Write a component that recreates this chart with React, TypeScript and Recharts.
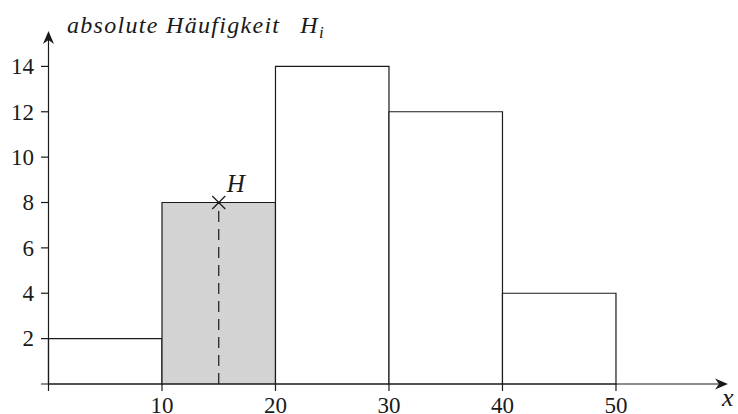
import { ComposedChart, XAxis, YAxis, ReferenceArea, ReferenceLine, Scatter } from 'recharts'

// class boundaries and absolute frequencies H_i
const classLower = [0, 10, 20, 30, 40]
const classUpper = [10, 20, 30, 40, 50]
const counts = [2, 8, 14, 12, 4]
const shadedClass = 1

const xTicks = [0, 10, 20, 30, 40, 50]
const yTicks = [2, 4, 6, 8, 10, 12, 14]

// marked point H on top of the shaded class
const pointX = [15]
const pointY = [8]
const pointLabels = ['H']

const xMin = -0.66
const xMax = 59.87
const yMax = 15.56

const FONT = 'Liberation Serif'
const INK = '#1a1a1a'

function ArrowLine(props: any) {
  const { x1, y1, x2, y2 } = props
  const len = Math.hypot(x2 - x1, y2 - y1) || 1
  const ux = (x2 - x1) / len
  const uy = (y2 - y1) / len
  const nx = -uy
  const ny = ux
  const L = 13
  const W = 5.5
  const notch = 9
  const bx = x2 - ux * L
  const by = y2 - uy * L
  const mx = x2 - ux * notch
  const my = y2 - uy * notch
  return (
    <g>
      <line x1={x1} y1={y1} x2={mx} y2={my} stroke={INK} strokeWidth={1.2} />
      <path
        d={`M${x2},${y2} L${bx + nx * W},${by + ny * W} L${mx},${my} L${bx - nx * W},${by - ny * W} Z`}
        fill={INK}
      />
    </g>
  )
}

function YTick({ x, y, payload }: any) {
  return (
    <g>
      <line x1={x} x2={x + 8} y1={y} y2={y} stroke={INK} strokeWidth={1.2} />
      <text x={x - 7} y={y} dy="0.34em" textAnchor="end" style={{ fontFamily: FONT, fontSize: 23 }} fill={INK}>
        {payload.value}
      </text>
    </g>
  )
}

function XTick({ x, y, payload }: any) {
  return (
    <text x={x} y={y} dy="0.68em" textAnchor="middle" style={{ fontFamily: FONT, fontSize: 23 }} fill={INK}>
      {payload.value === 0 ? '' : payload.value}
    </text>
  )
}

function CrossPoint({ cx, cy, payload }: any) {
  const s = 6.5
  return (
    <g>
      <line x1={cx - s} y1={cy - s} x2={cx + s} y2={cy + s} stroke={INK} strokeWidth={1.2} />
      <line x1={cx - s} y1={cy + s} x2={cx + s} y2={cy - s} stroke={INK} strokeWidth={1.2} />
      <text x={cx + 8} y={cy - 11} style={{ fontFamily: FONT, fontStyle: 'italic', fontSize: 25 }} fill={INK}>
        {payload.label}
      </text>
    </g>
  )
}

export default function App() {
  const points = pointX.map((x, i) => ({ x, y: pointY[i], label: pointLabels[i] }))

  return (
    <div style={{ position: 'absolute', left: 0, top: 0, width: 738, height: 414, background: '#fff' }}>
      <ComposedChart
        width={738}
        height={414}
        margin={{ top: 31, right: 10, bottom: 29, left: 40 }}
        style={{ fontFamily: FONT }}
      >
        <XAxis
          type="number"
          dataKey="x"
          domain={[xMin, xMax]}
          allowDataOverflow
          ticks={xTicks}
          interval={0}
          height={1}
          axisLine={false}
          tickSize={7}
          tickMargin={6}
          tickLine={{ stroke: INK, strokeWidth: 1.2 }}
          tick={<XTick />}
        />
        <YAxis
          type="number"
          dataKey="y"
          domain={[0, yMax]}
          allowDataOverflow
          ticks={yTicks}
          interval={0}
          width={1}
          axisLine={false}
          tickLine={false}
          tickSize={0}
          tickMargin={0}
          tick={<YTick />}
        />

        {counts.map((h, i) => (
          <ReferenceArea
            key={i}
            x1={classLower[i]}
            x2={classUpper[i]}
            y1={0}
            y2={h}
            fill={i === shadedClass ? '#d3d3d3' : '#ffffff'}
            fillOpacity={1}
            stroke={INK}
            strokeWidth={1.2}
          />
        ))}

        <ReferenceLine
          segment={[{ x: pointX[0], y: 0 }, { x: pointX[0], y: pointY[0] }]}
          stroke={INK}
          strokeWidth={1.2}
          strokeDasharray="11 7"
        />

        <ReferenceLine segment={[{ x: xMin, y: 0 }, { x: xMax, y: 0 }]} shape={ArrowLine} />
        <ReferenceLine segment={[{ x: 0, y: 0 }, { x: 0, y: yMax }]} shape={ArrowLine} />

        <Scatter data={points} isAnimationActive={false} shape={<CrossPoint />} />

        <text x={67} y={33} style={{ fontFamily: FONT, fontStyle: 'italic', fontSize: 24, letterSpacing: 1.3 }} fill={INK}>
          absolute Häufigkeit
          <tspan dx={20}>H</tspan>
          <tspan dy={5} style={{ fontSize: 17 }}>i</tspan>
        </text>
        <text x={722} y={406} style={{ fontFamily: FONT, fontStyle: 'italic', fontSize: 26 }} fill={INK}>
          x
        </text>
      </ComposedChart>
    </div>
  )
}
